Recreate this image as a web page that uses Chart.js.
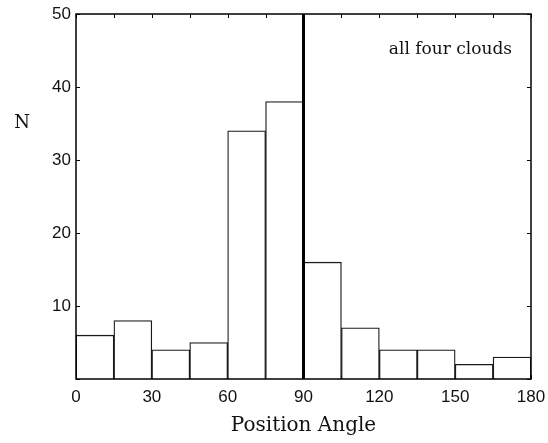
<!DOCTYPE html>
<html>
<head>
<meta charset="utf-8">
<script src="https://cdn.jsdelivr.net/npm/chart.js@4"></script>
<style>
  html, body { margin: 0; padding: 0; background: #fff; }
  #wrap { width: 548px; height: 443px; }
</style>
</head>
<body>
<div id="wrap"><canvas id="hist"></canvas></div>
<script>
// position angle bins (degrees, 15 deg wide) and counts
const binCenters = [7.5, 22.5, 37.5, 52.5, 67.5, 82.5, 97.5, 112.5, 127.5, 142.5, 157.5, 172.5];
const counts = [6, 8, 4, 5, 34, 38, 16, 7, 4, 4, 2, 3];
const markerAngle = 90;
const xTickLabels = [0, 30, 60, 90, 120, 150, 180];
const yTickLabels = [10, 20, 30, 40, 50];

const serif = "'DejaVu Serif', 'Liberation Serif', serif";
const sans = "'Liberation Sans', Arial, sans-serif";

// inward ticks on all four sides + box frame
const frame = {
    id: 'frame',
    beforeDatasetsDraw(chart) {
        const { ctx, chartArea: a, scales: { x, y } } = chart;
        ctx.save();
        ctx.strokeStyle = '#000';
        ctx.lineWidth = 1;
        ctx.beginPath();
        x.ticks.forEach(t => {
            const px = Math.round(x.getPixelForValue(t.value)) + 0.5;
            ctx.moveTo(px, a.bottom); ctx.lineTo(px, a.bottom - 4);
            ctx.moveTo(px, a.top); ctx.lineTo(px, a.top + 4);
        });
        y.ticks.forEach(t => {
            const py = Math.round(y.getPixelForValue(t.value)) + 0.5;
            ctx.moveTo(a.left, py); ctx.lineTo(a.left + 4, py);
            ctx.moveTo(a.right, py); ctx.lineTo(a.right - 4, py);
        });
        ctx.stroke();
        ctx.restore();
    },
    afterDatasetsDraw(chart) {
        const { ctx, chartArea: a } = chart;
        ctx.save();
        ctx.strokeStyle = '#000';
        ctx.lineWidth = 1.5;
        ctx.strokeRect(a.left, a.top, a.width, a.height);
        ctx.restore();
    },
    afterDraw(chart) {
        const { ctx, chartArea: a } = chart;
        ctx.save();
        ctx.fillStyle = '#111';
        ctx.font = '18px ' + serif;
        ctx.textAlign = 'center';
        ctx.textBaseline = 'middle';
        ctx.fillText('N', 22, 123);
        ctx.font = '17px ' + serif;
        ctx.textAlign = 'right';
        ctx.textBaseline = 'alphabetic';
        ctx.fillText('all four clouds', a.right - 19, 54);
        ctx.restore();
    }
};

const ctx = document.getElementById('hist').getContext('2d');
const chart = new Chart(ctx, {
    type: 'bar',
    data: {
        datasets: [
            {
                type: 'line',
                data: [{ x: markerAngle, y: 0 }, { x: markerAngle, y: 50 }],
                borderColor: '#000',
                borderWidth: 3,
                pointRadius: 0,
                order: 0
            },
            {
                type: 'bar',
                data: binCenters.map((c, i) => ({ x: c, y: counts[i] })),
                backgroundColor: '#fff',
                borderColor: '#1a1a1a',
                borderWidth: 1.3,
                barPercentage: 1,
                categoryPercentage: 1,
                order: 1
            }
        ]
    },
    options: {
        responsive: true,
        maintainAspectRatio: false,
        animation: false,
        layout: { padding: { left: 0, right: 17, top: 14, bottom: 0 } },
        plugins: { legend: { display: false }, tooltip: { enabled: false } },
        scales: {
            x: {
                type: 'linear',
                min: 0,
                max: 180,
                offset: false,
                grid: { display: false, drawTicks: false },
                border: { display: false },
                ticks: {
                    stepSize: 15,
                    autoSkip: false,
                    maxRotation: 0,
                    padding: 8,
                    color: '#111',
                    font: { family: sans, size: 17 },
                    callback: v => xTickLabels.includes(v) ? String(v) : ''
                },
                title: {
                    display: true,
                    text: 'Position Angle',
                    color: '#111',
                    font: { family: serif, size: 20 },
                    padding: { top: 0, bottom: 5 }
                },
                afterFit(scale) {
                    scale.height = 64;
                    scale.paddingLeft = 0;
                    scale.paddingRight = 0;
                }
            },
            y: {
                min: 0,
                max: 50,
                grid: { display: false, drawTicks: false },
                border: { display: false },
                ticks: {
                    stepSize: 10,
                    padding: 5,
                    color: '#111',
                    font: { family: sans, size: 17 },
                    callback: v => yTickLabels.includes(v) ? String(v) : ''
                },
                afterFit(scale) {
                    scale.width = 76;
                    scale.paddingTop = 0;
                    scale.paddingBottom = 0;
                }
            }
        }
    },
    plugins: [frame]
});
</script>
</body>
</html>
